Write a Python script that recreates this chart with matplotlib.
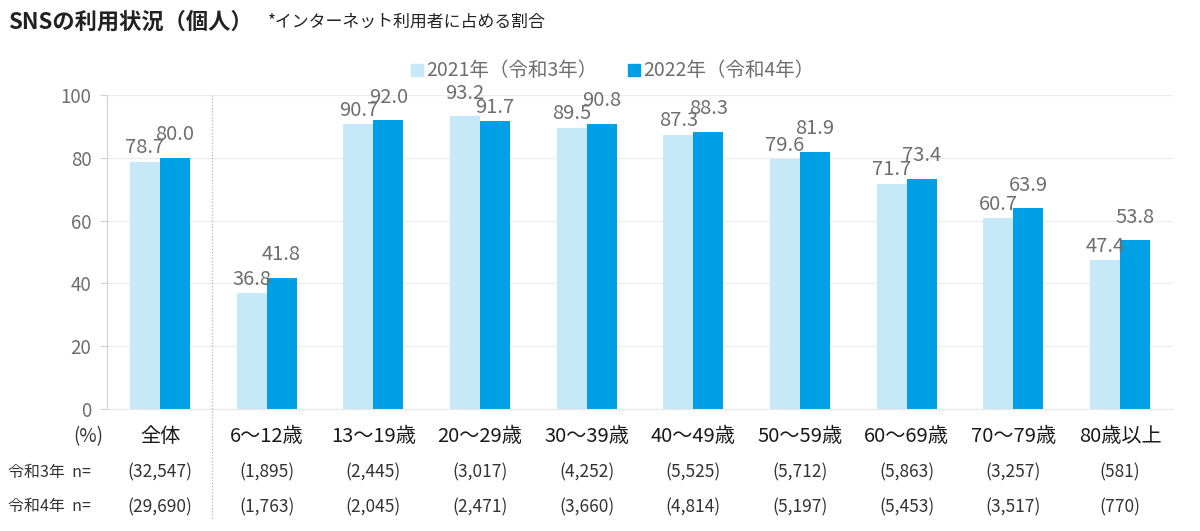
import numpy as np
import matplotlib
import matplotlib.pyplot as plt
from matplotlib.transforms import blended_transform_factory
from matplotlib.patches import Rectangle

matplotlib.use("Agg")
plt.rcParams["font.family"] = ["Noto Sans CJK JP", "DejaVu Sans"]

# ── データ ──────────────────────────────────────────
categories = ["全体", "6～12歳", "13～19歳", "20～29歳", "30～39歳",
              "40～49歳", "50～59歳", "60～69歳", "70～79歳", "80歳以上"]
vals_2021 = [78.7, 36.8, 90.7, 93.2, 89.5, 87.3, 79.6, 71.7, 60.7, 47.4]
vals_2022 = [80.0, 41.8, 92.0, 91.7, 90.8, 88.3, 81.9, 73.4, 63.9, 53.8]
n_2021 = ["(32,547)", "(1,895)", "(2,445)", "(3,017)", "(4,252)",
          "(5,525)", "(5,712)", "(5,863)", "(3,257)", "(581)"]
n_2022 = ["(29,690)", "(1,763)", "(2,045)", "(2,471)", "(3,660)",
          "(4,814)", "(5,197)", "(5,453)", "(3,517)", "(770)"]
series_labels = ["2021年（令和3年）", "2022年（令和4年）"]

C_LIGHT = "#c5e9f8"
C_DARK = "#00a0e6"
C_GRAY = "#6e6e6e"

W, H = 1200, 531
fig = plt.figure(figsize=(W / 100, H / 100), dpi=100)
ax = fig.add_axes([106.7 / W, 1 - 409 / H, (1173.3 - 106.7) / W, (409 - 95) / H])

x = np.arange(len(categories))
bw = 0.28
b1 = ax.bar(x - bw / 2, vals_2021, bw, color=C_LIGHT, zorder=2)
b2 = ax.bar(x + bw / 2, vals_2022, bw, color=C_DARK, zorder=2)

# 値ラベル：各組で高い方のラベルを上にずらして重なりを減らす
for i in range(len(categories)):
    v1, v2 = vals_2021[i], vals_2022[i]
    off1, off2 = (9, 2.5) if v1 > v2 else (2.5, 9)
    for r, v, off in ((b1[i], v1, off1), (b2[i], v2, off2)):
        ax.annotate(f"{v:.1f}", (r.get_x() + r.get_width() / 2, v),
                    xytext=(0, off), textcoords="offset points",
                    ha="center", va="bottom", fontsize=14.5, color=C_GRAY, zorder=3)

ax.set_xlim(-0.5, len(categories) - 0.5)
ax.set_ylim(0, 100)
ax.set_yticks(range(0, 101, 20))
ax.set_xticks([])
ax.tick_params(axis="y", colors="#d0d0d0", labelcolor=C_GRAY, labelsize=13.5,
               length=5, width=0.8, pad=6)
ax.grid(axis="y", color="#ececec", lw=0.9, zorder=0)
for s in ("top", "right"):
    ax.spines[s].set_visible(False)
ax.spines["left"].set_color("#d0d0d0")
ax.spines["bottom"].set_color("#e6e6e6")

# 全体と年齢別の区切り線
fig.add_artist(plt.Line2D([212 / W, 212 / W], [1 - 95 / H, 1 - 520 / H],
                          color="#b8b8b8", lw=0.9, ls=(0, (1, 1.5))))

# 下部ラベル
tr = blended_transform_factory(ax.transData, fig.transFigure)
for i, c in enumerate(categories):
    ax.text(i, 1 - 437 / H, c, transform=tr, ha="center", va="center",
            fontsize=14.5, color="#1a1a1a")
    ax.text(i, 1 - 472 / H, n_2021[i], transform=tr, ha="center", va="center",
            fontsize=12.5, color="#333333")
    ax.text(i, 1 - 507 / H, n_2022[i], transform=tr, ha="center", va="center",
            fontsize=12.5, color="#333333")
fig.text(88 / W, 1 - 437 / H, "(%)", ha="center", va="center", fontsize=13.5, color="#333333")
fig.text(8 / W, 1 - 472 / H, "令和3年  n=", ha="left", va="center", fontsize=11.5, color="#333333")
fig.text(8 / W, 1 - 507 / H, "令和4年  n=", ha="left", va="center", fontsize=11.5, color="#333333")

# タイトル
fig.text(8 / W, 1 - 22 / H, "SNSの利用状況（個人）", ha="left", va="center",
         fontsize=16, fontweight="bold", color="#222222")
fig.text(268 / W, 1 - 22 / H, "*インターネット利用者に占める割合", ha="left", va="center",
         fontsize=12.2, color="#222222")

# 凡例
for (lx, lab, col) in ((411, series_labels[0], C_LIGHT), (628, series_labels[1], C_DARK)):
    fig.add_artist(Rectangle((lx / W, 1 - 76 / H), 12 / W, 12 / H,
                             transform=fig.transFigure, color=col))
    fig.text((lx + 15) / W, 1 - 70 / H, lab, ha="left", va="center",
             fontsize=14, color=C_GRAY)

plt.savefig("out.png", dpi=100)
plt.close(fig)
